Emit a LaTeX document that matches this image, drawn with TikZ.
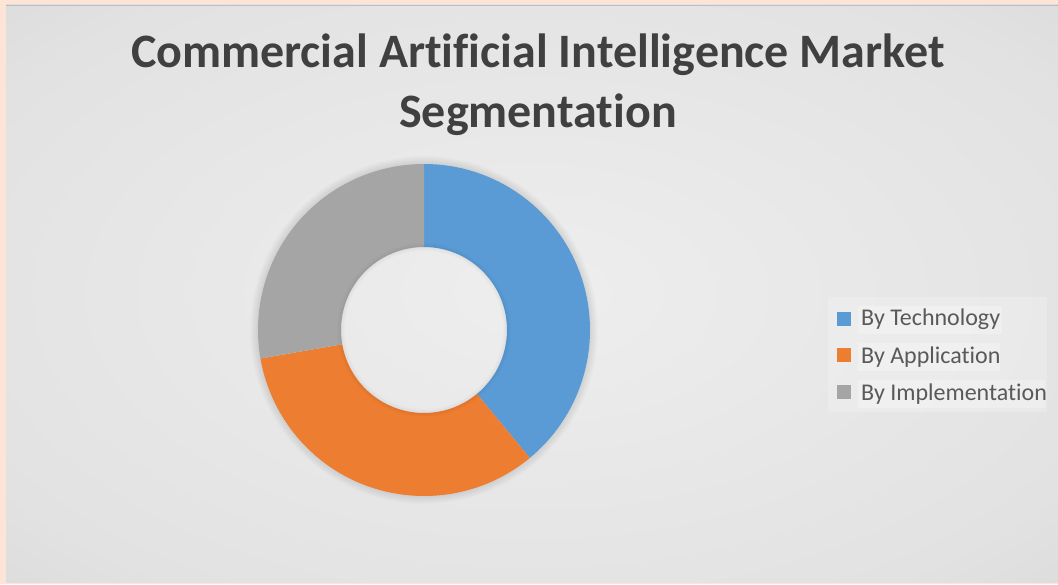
\documentclass[tikz,border=0pt]{standalone}
\usepackage{fontspec}
\setmainfont[Ligatures={NoCommon,NoContextual}]{Carlito}
\usetikzlibrary{calc}
\definecolor{peach}{HTML}{FCE4D6}
\definecolor{bgin}{HTML}{EEEEEE}
\definecolor{bgmid}{HTML}{E2E2E2}
\definecolor{bgout}{HTML}{C8C8C8}
\definecolor{bgline}{HTML}{BDBDBD}
\definecolor{techblue}{HTML}{5B9BD5}
\definecolor{apporange}{HTML}{ED7D31}
\definecolor{implgray}{HTML}{A5A5A5}
\definecolor{titlegray}{HTML}{404040}
\definecolor{leggray}{HTML}{595959}
\pgfdeclareradialshading{bgshade}{\pgfpoint{0bp}{0bp}}{color(0bp)=(bgin); color(30bp)=(bgmid); color(55bp)=(bgout!85!bgmid); color(71bp)=(bgout)}
\tikzset{
  titletext/.style={anchor=base, inner sep=0pt, text=titlegray, font=\fontsize{48}{56}\selectfont\bfseries},
  legtext/.style={anchor=base west, inner sep=0pt, text=leggray, font=\fontsize{24}{28}\selectfont},
  legkey/.style={minimum size=14pt, inner sep=0pt, draw=none},
  legrow/.style={fill=white, fill opacity=0.25, draw=none}
}
\newcommand{\donutseg}[3]{%
  \fill[#1] ($(C)+(#2:166)$) arc[start angle=#2, end angle=#3, radius=166]
    -- ($(C)+(#3:83)$) arc[start angle=#3, end angle=#2, radius=83] -- cycle;}
\begin{document}
\begin{tikzpicture}[x=1pt,y=1pt]
\useasboundingbox (0,0) rectangle (1058,584);
\fill[peach] (0,0) rectangle (1058,584);
\shade[shading=bgshade] (6,2) rectangle (1058,579);
\draw[bgline, line width=1.2pt] (6,578.6) -- (1058,578.6);
% title
\node[titletext] (title1) at (538,516) {Commercial Artificial Intelligence Market};
\node[titletext] (title2) at (538,456) {Segmentation};
% donut
\coordinate (C) at (424,254);
\foreach \i in {2,4,...,16}{\draw[black, opacity=0.012, line width=\i pt] (C) circle (166);}
\donutseg{techblue}{90}{-50.4}
\donutseg{apporange}{-50.4}{-170.1}
\donutseg{implgray}{-170.1}{-270}
\foreach \i in {2,4,...,8}{\draw[black, opacity=0.012, line width=\i pt] (C) circle (83);}
% legend
\fill[white, opacity=0.2] (828,172) rectangle (1047,287);
\fill[legrow] (858,250) rectangle (1002,278);
\fill[legrow] (858,213) rectangle (1000,241);
\fill[legrow] (858,176) rectangle (1045,204);
\node[legkey, fill=techblue] (k1) at (843.5,265) {};
\node[legkey, fill=apporange] (k2) at (843.5,229) {};
\node[legkey, fill=implgray] (k3) at (843.5,192) {};
\node[legtext] (l1) at (861,258) {By Technology};
\node[legtext] (l2) at (861,220) {By Application};
\node[legtext] (l3) at (861,183) {By Implementation};
\end{tikzpicture}
\end{document}
